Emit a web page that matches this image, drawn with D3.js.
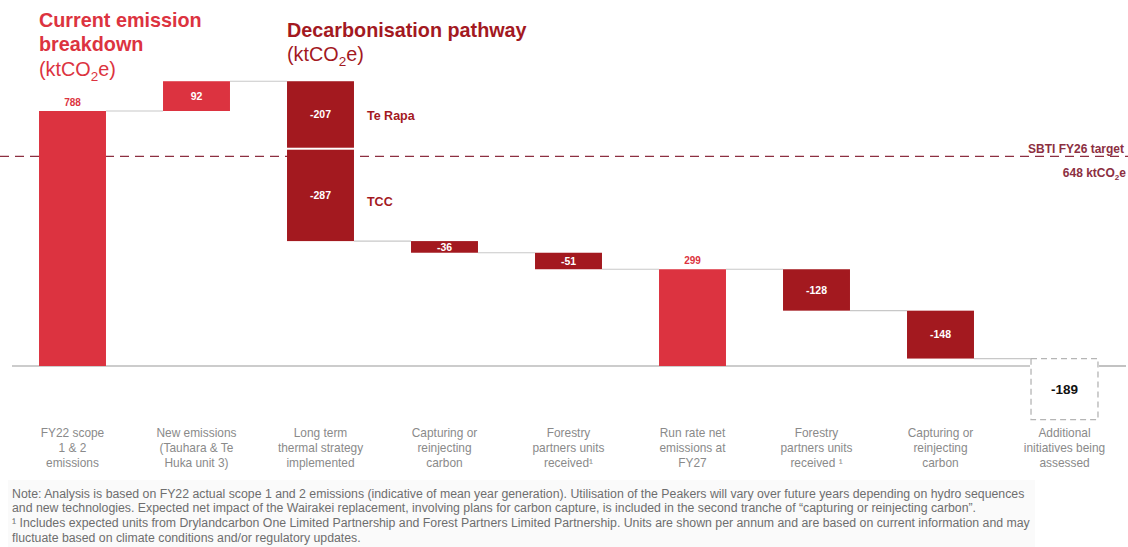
<!DOCTYPE html>
<html>
<head>
<meta charset="utf-8">
<script src="https://cdn.jsdelivr.net/npm/d3@7"></script>
<style>
  html, body { margin: 0; padding: 0; background: #fff; }
  svg { display: block; font-family: "Liberation Sans", Arial, sans-serif; }
</style>
</head>
<body>
<svg id="chart" width="1128" height="547"></svg>
<script>
// ---- data ----
const categories = [
  ["FY22 scope", "1 & 2", "emissions"],
  ["New emissions", "(Tauhara & Te", "Huka unit 3)"],
  ["Long term", "thermal strategy", "implemented"],
  ["Capturing or", "reinjecting", "carbon"],
  ["Forestry", "partners units", "received\u00B9"],
  ["Run rate net", "emissions at", "FY27"],
  ["Forestry", "partners units", "received \u00B9"],
  ["Capturing or", "reinjecting", "carbon"],
  ["Additional", "initiatives being", "assessed"]
];
const stepCategory = [0, 1, 2, 2, 3, 4, 5, 6, 7, 8];
const stepValues   = [788, 92, -207, -287, -36, -51, 299, -128, -148, -189];
const stepTypes    = ["total", "increase", "decrease", "decrease", "decrease", "decrease", "total", "decrease", "decrease", "pending"];
const stepNotes    = ["", "", "Te Rapa", "TCC", "", "", "", "", "", ""];
const targetValue  = 648;
const targetLabels = ["SBTI FY26 target", "648 ktCO\u2082e"];
const noteLines = [
  "Note: Analysis is based on FY22 actual scope 1 and 2 emissions (indicative of mean year generation). Utilisation of the Peakers will vary over future years depending on hydro sequences",
  "and new technologies. Expected net impact of the Wairakei replacement, involving plans for carbon capture, is included in the second tranche of \u201Ccapturing or reinjecting carbon\u201D.",
  "\u00B9 Includes expected units from Drylandcarbon One Limited Partnership and Forest Partners Limited Partnership. Units are shown per annum and are based on current information and may",
  "fluctuate based on climate conditions and/or regulatory updates."
];

// ---- colours ----
const RED = "#dc3340";
const DARK = "#a3191f";
const TARGET = "#8c2f41";

const svg = d3.select("#chart");

// scales
const x = d3.scaleBand()
  .domain(d3.range(categories.length))
  .range([10.5, 1126.5])
  .paddingInner(0.46)
  .paddingOuter(0.23);
const y = d3.scaleLinear().domain([0, 788]).range([366, 111]);

// compute steps
let running = 0;
const steps = stepValues.map((v, i) => {
  let start, end;
  if (stepTypes[i] === "total") { start = 0; end = v; }
  else { start = running; end = running + v; }
  running = end;
  return { i, cat: stepCategory[i], value: v, type: stepTypes[i], note: stepNotes[i], start, end,
           lo: Math.min(start, end), hi: Math.max(start, end) };
});

// note box (behind everything)
svg.append("rect").attr("x", 8).attr("y", 480).attr("width", 1027).attr("height", 67)
  .attr("fill", "#fafafa");

// baseline (zero line)
const base = svg.append("g");
base.append("line")
  .attr("x1", 12).attr("x2", x(8) - 1).attr("y1", y(0)).attr("y2", y(0))
  .attr("stroke", "#9a9a9a").attr("stroke-width", 1.2);
base.append("line")
  .attr("x1", x(8) + x.bandwidth() + 1).attr("x2", 1126).attr("y1", y(0)).attr("y2", y(0))
  .attr("stroke", "#9a9a9a").attr("stroke-width", 1.2);

// connectors
const conn = svg.append("g");
for (let k = 0; k < steps.length - 1; k++) {
  const a = steps[k], b = steps[k + 1];
  if (a.cat === b.cat) continue;
  conn.append("line")
    .attr("x1", x(a.cat) + x.bandwidth()).attr("x2", x(b.cat))
    .attr("y1", y(a.end)).attr("y2", y(a.end))
    .attr("stroke", "#c8c8c8").attr("stroke-width", 1.2);
}

// target line
svg.append("line")
  .attr("x1", 0).attr("x2", 1128)
  .attr("y1", y(targetValue)).attr("y2", y(targetValue))
  .attr("stroke", TARGET).attr("stroke-width", 1.3)
  .attr("stroke-dasharray", "9,6");
svg.append("text")
  .attr("x", 1124).attr("y", y(targetValue) - 3.5)
  .attr("text-anchor", "end").attr("font-size", 12).attr("font-weight", "bold")
  .attr("fill", TARGET).text(targetLabels[0]);
const t2 = svg.append("text")
  .attr("x", 1126).attr("y", y(targetValue) + 20.5)
  .attr("text-anchor", "end").attr("font-size", 12).attr("font-weight", "bold")
  .attr("fill", TARGET);
t2.append("tspan").text("648 ktCO");
t2.append("tspan").attr("font-size", 8).attr("dy", 3).text("2");
t2.append("tspan").attr("dy", -3).text("e");

// bars
const noteOffset = { "Te Rapa": 5.5, "TCC": 10.5 };
const bars = svg.append("g");
steps.forEach((s, k) => {
  const bx = x(s.cat), bw = x.bandwidth();
  let top = y(s.hi), bot = y(s.lo);
  const prev = steps[k - 1];
  if (prev && prev.cat === s.cat) top += 1.5;
  const next = steps[k + 1];
  if (next && next.cat === s.cat) bot -= 0.5;
  if (s.type === "pending") {
    bars.append("rect")
      .attr("x", bx).attr("y", top).attr("width", bw).attr("height", bot - top)
      .attr("fill", "#fff").attr("stroke", "#b5b5b5").attr("stroke-width", 1.3)
      .attr("stroke-dasharray", "6,4");
    bars.append("text")
      .attr("x", bx + bw / 2).attr("y", (top + bot) / 2 + 5)
      .attr("text-anchor", "middle").attr("font-size", 13.5).attr("font-weight", "bold")
      .attr("fill", "#111").text(s.value);
    return;
  }
  const fill = s.type === "decrease" ? DARK : RED;
  bars.append("rect")
    .attr("x", bx).attr("y", top).attr("width", bw).attr("height", bot - top)
    .attr("fill", fill);
  if (s.type === "total") {
    bars.append("text")
      .attr("x", bx + bw / 2).attr("y", top - 5)
      .attr("text-anchor", "middle").attr("font-size", 10).attr("font-weight", "bold")
      .attr("fill", RED).text(s.value);
  } else {
    bars.append("text")
      .attr("x", bx + bw / 2).attr("y", (top + bot) / 2 + 3.8)
      .attr("text-anchor", "middle").attr("font-size", 10.5).attr("font-weight", "bold")
      .attr("fill", "#fff").text(s.value);
  }
  if (s.note) {
    bars.append("text")
      .attr("x", bx + bw + 13).attr("y", (top + bot) / 2 + (noteOffset[s.note] || 5))
      .attr("font-size", 12.5).attr("font-weight", "bold")
      .attr("fill", DARK).text(s.note);
  }
});

// category labels
const labels = svg.append("g");
categories.forEach((lines, i) => {
  const t = labels.append("text")
    .attr("x", x(i) + x.bandwidth() / 2).attr("y", 437)
    .attr("text-anchor", "middle").attr("font-size", 11.9).attr("fill", "#8a8a8a");
  lines.forEach((ln, j) => {
    t.append("tspan").attr("x", x(i) + x.bandwidth() / 2).attr("y", 437 + j * 15).text(ln);
  });
});

// titles
function unitTitle(xp, yp, color) {
  const t = svg.append("text").attr("x", xp).attr("y", yp)
    .attr("font-size", 19.8).attr("fill", color);
  t.append("tspan").text("(ktCO");
  t.append("tspan").attr("font-size", 13.5).attr("dy", 5).text("2");
  t.append("tspan").attr("dy", -5).text("e)");
}
svg.append("text").attr("x", 39).attr("y", 27).attr("font-size", 19.8).attr("font-weight", "bold")
  .attr("fill", RED).text("Current emission");
svg.append("text").attr("x", 39).attr("y", 51).attr("font-size", 19.8).attr("font-weight", "bold")
  .attr("fill", RED).text("breakdown");
unitTitle(39, 76, RED);
svg.append("text").attr("x", 287).attr("y", 37).attr("font-size", 19.8).attr("font-weight", "bold")
  .attr("fill", DARK).text("Decarbonisation pathway");
unitTitle(287, 61, DARK);

// note text
const note = svg.append("text").attr("font-size", 12.3).attr("fill", "#6e6e6e");
noteLines.forEach((ln, j) => {
  note.append("tspan").attr("x", 12).attr("y", 497.5 + j * 14.8).text(ln);
});
</script>
</body>
</html>
